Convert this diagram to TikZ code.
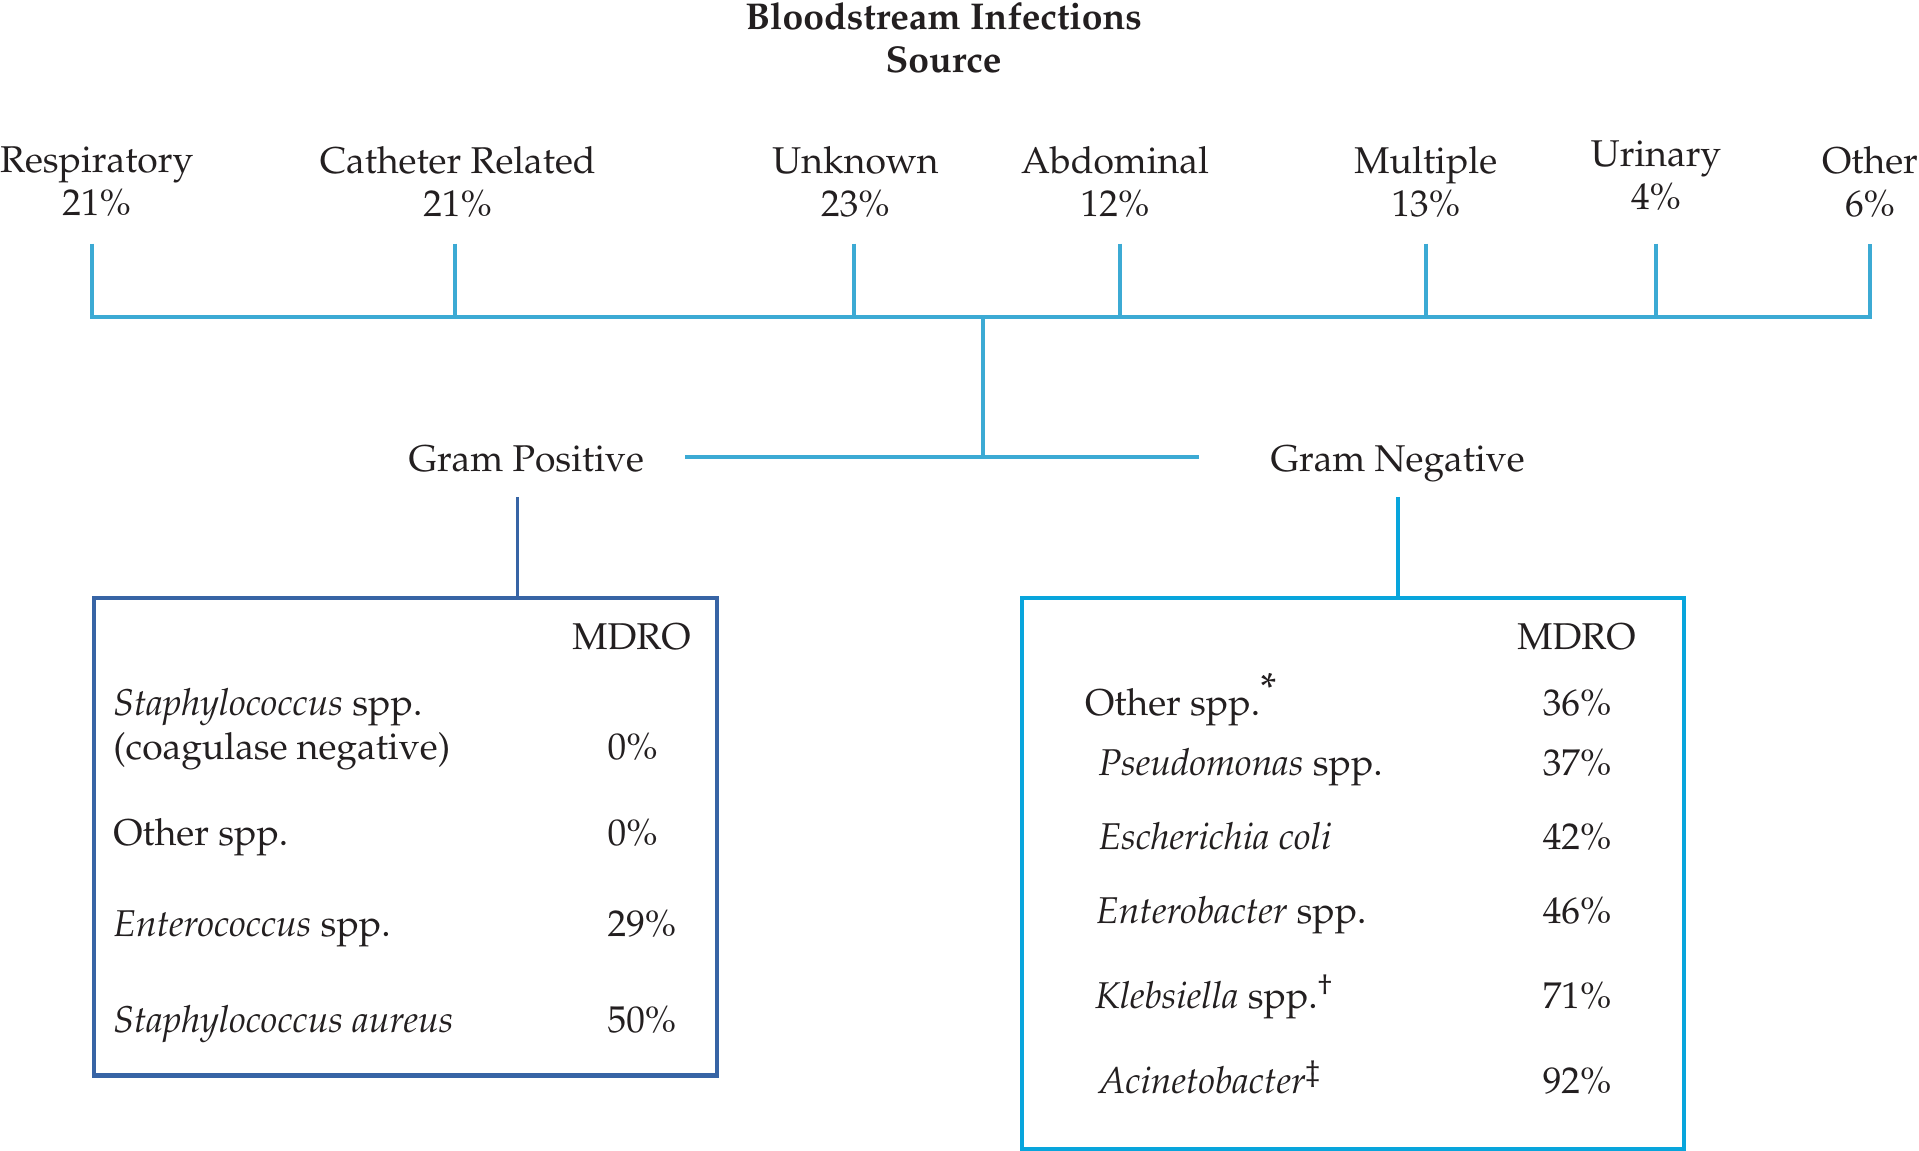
\documentclass[tikz,border=0pt]{standalone}
\usepackage[T1]{fontenc}
\usepackage{mathpazo}
\usetikzlibrary{positioning,calc}
\definecolor{srcblue}{RGB}{60,170,212}
\definecolor{posblue}{RGB}{55,100,165}
\definecolor{negblue}{RGB}{8,165,220}
\definecolor{ink}{RGB}{35,31,32}
\tikzset{
src/.style = {align=center, text=ink, inner sep=0pt},
hdr/.style = {text=ink, inner sep=0pt, anchor=base},
lbl/.style = {text=ink, inner sep=0pt, anchor=base west},
tree/.style = {draw=srcblue, line width=1.15pt},
posline/.style = {draw=posblue, line width=0.9pt},
negline/.style = {draw=negblue, line width=1.15pt},
posbox/.style = {draw=posblue, line width=1.2pt, rectangle, anchor=north west, minimum width=6.23cm, minimum height=4.77cm},
negbox/.style = {draw=negblue, line width=1.25pt, rectangle, anchor=north west, minimum width=6.62cm, minimum height=5.51cm}
}
\begin{document}
\begin{tikzpicture}[x=0.01cm, y=-0.01cm, font=\fontsize{10.6}{12.2}\selectfont]
\useasboundingbox (0,0) rectangle (1919,1150);

                % title
                \node [hdr] (title) at (943.6,29) {\bfseries Bloodstream Infections};
                \node [hdr] (title2) at (943.6,72) {\bfseries Source};

                % sources
                \node [src] (resp) at (96.7,181.7) {Respiratory\\21\%};
                \node [src] (cath) at (457.7,181.7) {Catheter Related\\21\%};
                \node [src] (unkn) at (855.5,181.7) {Unknown\\23\%};
                \node [src] (abdo) at (1115,181.7) {Abdominal\\12\%};
                \node [src] (mult) at (1425.8,181.7) {Multiple\\13\%};
                \node [src] (urin) at (1656,175.5) {Urinary\\4\%};
                \node [src] (othr) at (1870,181.7) {Other\\6\%};

                \coordinate (tresp) at (91.8,243.6);
                \coordinate (tcath) at (455.3,243.6);
                \coordinate (tunkn) at (854.3,243.6);
                \coordinate (tabdo) at (1119.9,243.6);
                \coordinate (tmult) at (1425.8,243.6);
                \coordinate (turin) at (1656,243.6);
                \coordinate (tothr) at (1870.1,243.6);
                \coordinate (bar) at (982.8,317);
                \coordinate (hub) at (982.8,456.5);
                \coordinate (hubl) at (685.4,456.5);
                \coordinate (hubr) at (1199.4,456.5);

                \draw [tree] (tresp) -- (tresp |- bar) -- (tothr |- bar) -- (tothr);
                \draw [tree] (tcath) -- (tcath |- bar);
                \draw [tree] (tunkn) -- (tunkn |- bar);
                \draw [tree] (tabdo) -- (tabdo |- bar);
                \draw [tree] (tmult) -- (tmult |- bar);
                \draw [tree] (turin) -- (turin |- bar);
                \draw [tree] (bar) -- (hub);
                \draw [tree] (hubl) -- (hubr);

                % gram groups
                \node [hdr] (gp) at (526.3,471) {Gram Positive};
                \node [hdr] (gn) at (1397.7,471) {Gram Negative};
                \node [posbox] (gpbox) at (91.8,596) {};
                \node [negbox] (gnbox) at (1019.5,596) {};
                \coordinate (gptop) at (517.7,496.9);
                \coordinate (gntop) at (1397.7,496.9);
                \draw [posline] (gptop) -- (gptop |- gpbox.north);
                \draw [negline] (gntop) -- (gntop |- gnbox.north);

                % gram positive table
                \node [hdr] (gpmdro) at (631.5,649.7) {MDRO};
                \node [lbl] (staph) at (112.6,715.7) {\textit{Staphylococcus} spp.};
                \node [lbl] (coag) at (112.6,759.8) {(coagulase negative)};
                \node [lbl] (staphp) at (607,759.8) {0\%};
                \node [lbl] (gpoth) at (112.6,845.5) {Other spp.};
                \node [lbl] (gpothp) at (607,845.5) {0\%};
                \node [lbl] (ente) at (112.6,936) {\textit{Enterococcus} spp.};
                \node [lbl] (entep) at (607,936) {29\%};
                \node [lbl] (saur) at (112.6,1032.7) {\textit{Staphylococcus aureus}};
                \node [lbl] (saurp) at (607,1032.7) {50\%};

                % gram negative table
                \node [hdr] (gnmdro) at (1576.4,649.7) {MDRO};
                \node [lbl] (gnoth) at (1084.4,715.7) {Other spp.\textsuperscript{\large *}};
                \node [lbl] (gnothp) at (1542.1,715.7) {36\%};
                \node [lbl] (pseu) at (1097.8,775.7) {\textit{Pseudomonas} spp.};
                \node [lbl] (pseup) at (1542.1,775.7) {37\%};
                \node [lbl] (ecol) at (1097.8,849.1) {\textit{Escherichia coli}};
                \node [lbl] (ecolp) at (1542.1,849.1) {42\%};
                \node [lbl] (entb) at (1095.4,923.8) {\textit{Enterobacter} spp.};
                \node [lbl] (entbp) at (1542.1,923.8) {46\%};
                \node [lbl] (kleb) at (1094.2,1008.3) {\textit{Klebsiella} spp.\textsuperscript{\textdagger}};
                \node [lbl] (klebp) at (1542.1,1008.3) {71\%};
                \node [lbl] (acin) at (1097.8,1093.9) {\textit{Acinetobacter}\textsuperscript{\textdaggerdbl}};
                \node [lbl] (acinp) at (1542.1,1093.9) {92\%};
            \end{tikzpicture}
\end{document}
